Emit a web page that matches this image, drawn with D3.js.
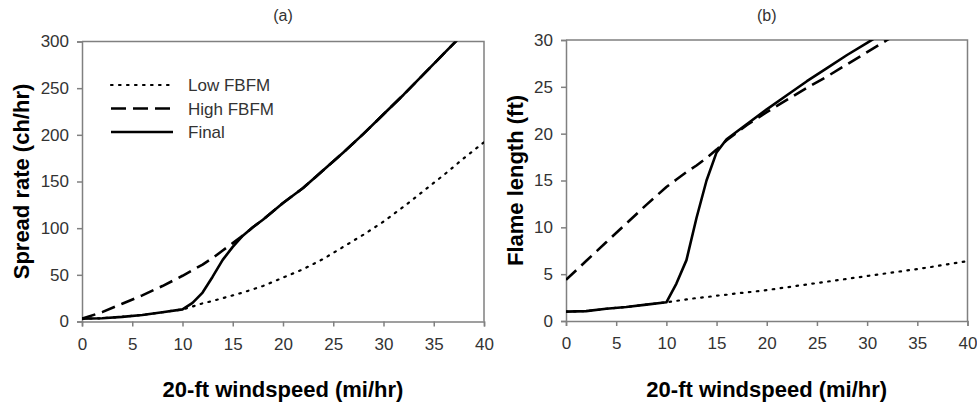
<!DOCTYPE html>
<html>
<head>
<meta charset="utf-8">
<script src="https://d3js.org/d3.v7.min.js"></script>
<style>
  body { margin: 0; background: #fff; }
  text { font-family: "Liberation Sans", Arial, sans-serif; }
</style>
</head>
<body>
<div id="chart"></div>
<script>
// wind speeds (mi/hr)
var windA = [0, 2, 4, 6, 8, 10, 11, 12, 13, 14, 15, 16, 17, 18, 20, 22, 24, 26, 28, 30, 32, 34, 36, 38, 40];
// (a) spread rate (ch/hr)
var lowSpread   = [3, 3.5, 5, 7, 10, 13, 16, 19.5, 22, 25, 28, 31, 34.5, 38, 47, 56, 67, 80, 93, 107, 123, 140, 157, 175, 192];
var highSpread  = [3, 10, 19, 28, 38, 49, 55, 61, 68, 76, 84, 92, 101, 109, 127, 143, 162, 181, 201, 222, 243, 265, 287, 309, 330];
var finalSpread = [3, 3.5, 5, 7, 10, 13, 20, 31, 48, 66, 80, 92, 101, 109, 127, 143, 162, 181, 201, 222, 243, 265, 287, 309, 330];

// (b) flame length (ft)
var windB = [0, 2, 4, 6, 8, 10, 11, 12, 13, 14, 15, 16, 17, 18, 20, 22, 24, 26, 28, 30, 32, 34, 36, 38, 40];
var lowFlame   = [1, 1.05, 1.3, 1.5, 1.75, 2, 2.15, 2.3, 2.45, 2.55, 2.7, 2.8, 2.95, 3.05, 3.3, 3.6, 3.9, 4.2, 4.5, 4.8, 5.1, 5.4, 5.7, 6.05, 6.4];
var highFlame  = [4.4, 6.4, 8.4, 10.4, 12.4, 14.3, 15.1, 15.9, 16.6, 17.4, 18.3, 19.3, 20.1, 20.9, 22.3, 23.6, 24.9, 26.1, 27.4, 28.7, 30, 31.3, 32.6, 33.9, 35.2];
var finalFlame = [1, 1.05, 1.3, 1.5, 1.75, 2, 4, 6.5, 11, 15, 18, 19.4, 20.2, 21, 22.6, 24.1, 25.6, 27, 28.4, 29.7, 31, 32.3, 33.6, 34.9, 36.2];

var xTicks = [0, 5, 10, 15, 20, 25, 30, 35, 40];
var seriesNames = ["Low FBFM", "High FBFM", "Final"];

var styles = {
  "Low FBFM":  { dash: "1.6,6.4", width: 2.2, cap: "round" },
  "High FBFM": { dash: "14,7", width: 2.6, cap: "butt" },
  "Final":     { dash: null, width: 2.6, cap: "butt" }
};

var svg = d3.select("#chart").append("svg")
    .attr("width", 977)
    .attr("height", 402);

var panels = [
  { id: "a", title: "(a)", left: 82, right: 484, top: 41.5, bottom: 321.5,
    yMax: 300, yTicks: [0, 50, 100, 150, 200, 250, 300], yLabel: "Spread rate (ch/hr)", yLabelX: 29,
    wind: windA, series: [lowSpread, highSpread, finalSpread], legend: true },
  { id: "b", title: "(b)", left: 566, right: 967.5, top: 40, bottom: 321,
    yMax: 30, yTicks: [0, 5, 10, 15, 20, 25, 30], yLabel: "Flame length (ft)", yLabelX: 523,
    wind: windB, series: [lowFlame, highFlame, finalFlame], legend: false }
];

panels.forEach(function(p) {
  var x = d3.scaleLinear().domain([0, 40]).range([p.left, p.right]);
  var y = d3.scaleLinear().domain([0, p.yMax]).range([p.bottom, p.top]);
  var g = svg.append("g");

  // frame top + right
  g.append("path")
      .attr("d", "M" + p.left + "," + p.top + "H" + p.right + "V" + p.bottom)
      .attr("fill", "none")
      .attr("stroke", "#808080")
      .attr("stroke-width", 1.5);

  var xAxis = g.append("g")
      .attr("transform", "translate(0," + p.bottom + ")")
      .call(d3.axisBottom(x).tickValues(xTicks).tickSize(5).tickPadding(11));
  var yAxis = g.append("g")
      .attr("transform", "translate(" + p.left + ",0)")
      .call(d3.axisLeft(y).tickValues(p.yTicks).tickSize(5).tickPadding(8));

  [xAxis, yAxis].forEach(function(ax) {
    ax.select(".domain").attr("stroke", "#808080").attr("stroke-width", 1.5);
    ax.selectAll(".tick line").attr("stroke", "#808080").attr("stroke-width", 1.5);
    ax.selectAll(".tick text")
        .attr("fill", "#333")
        .style("font-size", "17px")
        .style("font-family", "'Liberation Sans', Arial, sans-serif");
  });

  var clipId = "clip-" + p.id;
  svg.append("clipPath").attr("id", clipId)
    .append("rect")
      .attr("x", p.left).attr("y", p.top)
      .attr("width", p.right - p.left).attr("height", p.bottom - p.top);

  var line = d3.line()
      .x(function(d) { return x(d[0]); })
      .y(function(d) { return y(d[1]); });

  var lines = g.append("g").attr("clip-path", "url(#" + clipId + ")");
  // draw Low, High, then Final on top
  p.series.forEach(function(vals, i) {
    var st = styles[seriesNames[i]];
    var pts = p.wind.map(function(w, j) { return [w, vals[j]]; });
    lines.append("path")
        .datum(pts)
        .attr("d", line)
        .attr("fill", "none")
        .attr("stroke", "#000")
        .attr("stroke-width", st.width)
        .attr("stroke-linecap", st.cap)
        .attr("stroke-linejoin", "round")
        .attr("stroke-dasharray", st.dash);
  });

  g.append("text")
      .attr("x", (p.left + p.right) / 2)
      .attr("y", 21)
      .attr("text-anchor", "middle")
      .style("font-size", "16px")
      .attr("fill", "#333")
      .text(p.title);

  g.append("text")
      .attr("x", (p.left + p.right) / 2)
      .attr("y", 396.5)
      .attr("text-anchor", "middle")
      .style("font-size", "22px")
      .style("font-weight", "bold")
      .text("20-ft windspeed (mi/hr)");

  g.append("text")
      .attr("transform", "translate(" + p.yLabelX + "," + ((p.top + p.bottom) / 2) + ") rotate(-90)")
      .attr("text-anchor", "middle")
      .style("font-size", "22px")
      .style("font-weight", "bold")
      .text(p.yLabel);

  if (p.legend) {
    var leg = g.append("g");
    seriesNames.forEach(function(name, i) {
      var st = styles[name];
      var ly = 85 + i * 23.5;
      leg.append("line")
          .attr("x1", 111).attr("x2", 173)
          .attr("y1", ly).attr("y2", ly)
          .attr("stroke", "#000")
          .attr("stroke-width", st.width)
          .attr("stroke-linecap", st.cap)
          .attr("stroke-dasharray", name === "High FBFM" ? "15,7" : st.dash);
      leg.append("text")
          .attr("x", 188)
          .attr("y", ly + 6)
          .style("font-size", "17px")
          .attr("fill", "#333")
          .text(name);
    });
  }
});
</script>
</body>
</html>
